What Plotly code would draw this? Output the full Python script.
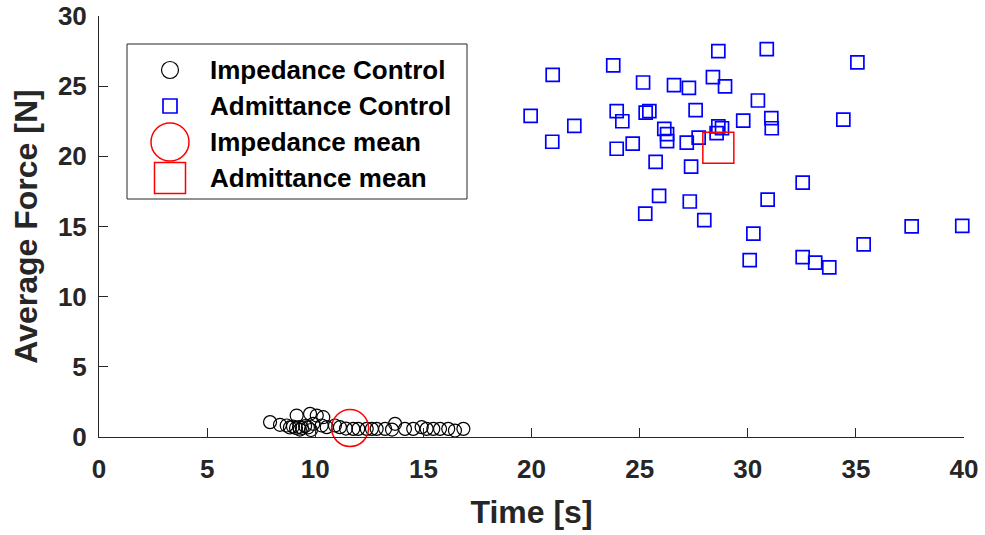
import plotly.graph_objects as go

# Impedance control trials: completion time [s] and average force [N]
imp_time = [7.91, 8.37, 8.68, 8.83, 8.97, 9.11, 9.25, 9.39, 9.53, 9.66,
            9.14, 9.76, 10.07, 10.37, 9.91, 10.30, 10.53, 10.91, 11.14, 11.76,
            11.99, 12.38, 12.84, 13.23, 13.69, 14.15, 14.53, 14.92, 15.15, 15.46,
            15.77, 16.15, 16.46, 16.85, 9.29, 9.80, 11.42, 12.62, 13.55]
imp_force = [1.06, 0.87, 0.82, 0.68, 0.75, 0.64, 0.71, 0.64, 0.78, 0.68,
             1.53, 1.65, 1.53, 1.41, 0.94, 0.82, 0.70, 0.82, 0.70, 0.58,
             0.58, 0.58, 0.58, 0.58, 0.94, 0.58, 0.58, 0.70, 0.58, 0.58,
             0.58, 0.58, 0.46, 0.58, 0.53, 0.50, 0.60, 0.58, 0.53]

# Admittance control trials
adm_time = [19.96, 20.98, 20.96, 21.98, 23.78, 23.94, 24.20, 23.94, 24.68, 25.16,
            25.28, 25.45, 25.26, 25.74, 25.90, 26.14, 26.27, 26.27, 26.59, 27.28,
            27.18, 27.38, 27.32, 27.59, 27.73, 27.99, 28.39, 28.64, 28.64, 28.81,
            28.56, 28.95, 29.79, 30.09, 30.26, 30.47, 30.88, 30.92, 31.09, 31.11,
            32.54, 32.54, 33.12, 33.77, 34.42, 35.07, 35.36, 37.58, 39.92]
adm_force = [22.88, 25.81, 21.04, 22.17, 26.48, 23.22, 22.50, 20.54, 20.90, 25.26,
             23.12, 23.22, 15.92, 19.60, 17.18, 21.95, 21.58, 21.08, 25.07, 24.88,
             20.97, 19.27, 16.78, 23.29, 21.33, 15.46, 25.64, 27.50, 22.13, 22.00,
             21.65, 24.98, 22.55, 12.61, 14.49, 23.98, 27.64, 16.92, 22.72, 22.00,
             18.13, 12.82, 12.42, 12.09, 22.62, 26.69, 13.73, 15.01, 15.04]

# Group means
imp_mean = (11.61, 0.64)
adm_mean = (28.64, 20.61)

x_ticks = [0, 5, 10, 15, 20, 25, 30, 35, 40]
y_ticks = [0, 5, 10, 15, 20, 25, 30]

legend_labels = ["Impedance Control", "Admittance Control",
                 "Impedance mean", "Admittance mean"]

FONT = "Liberation Sans, Arial, sans-serif"
AXIS_COLOR = "#262626"

W, H = 985, 535
M_L, M_R, M_T, M_B = 99, 21, 16, 98
PW, PH = W - M_L - M_R, H - M_T - M_B


def px_x(px):
    return (px - M_L) / PW


def px_y(py):
    return (H - M_B - py) / PH


fig = go.Figure()

fig.add_trace(go.Scatter(
    x=imp_time, y=imp_force, mode="markers", name=legend_labels[0],
    marker=dict(symbol="circle-open", size=13, color="black",
                line=dict(width=1.2, color="black")),
    showlegend=False, cliponaxis=False))

fig.add_trace(go.Scatter(
    x=adm_time, y=adm_force, mode="markers", name=legend_labels[1],
    marker=dict(symbol="square-open", size=13, color="#0000ff",
                line=dict(width=1.7, color="#0000ff")),
    showlegend=False, cliponaxis=False))

fig.add_trace(go.Scatter(
    x=[imp_mean[0]], y=[imp_mean[1]], mode="markers", name=legend_labels[2],
    marker=dict(symbol="circle-open", size=37, color="#ff0000",
                line=dict(width=1.5, color="#ff0000")),
    showlegend=False, cliponaxis=False))

fig.add_trace(go.Scatter(
    x=[adm_mean[0]], y=[adm_mean[1]], mode="markers", name=legend_labels[3],
    marker=dict(symbol="square-open", size=31, color="#ff0000",
                line=dict(width=1.5, color="#ff0000")),
    showlegend=False, cliponaxis=False))

# Legend box drawn by hand so the mean symbols keep their full size
shapes = [dict(type="rect", xref="paper", yref="paper",
               x0=px_x(127), x1=px_x(467), y0=px_y(199), y1=px_y(44),
               line=dict(color="#262626", width=1), fillcolor="white", layer="below")]

legend_rows = [70, 106, 142, 178]
legend_syms = [("circle", 17, "black", 1.2),
               ("rect", 14, "#0000ff", 1.7),
               ("circle", 38, "#ff0000", 1.5),
               ("rect", 31, "#ff0000", 1.5)]
sym_x = px_x(170)
for row_y, (kind, size, col, lw) in zip(legend_rows, legend_syms):
    shapes.append(dict(type=kind, xref="paper", yref="paper",
                       xsizemode="pixel", ysizemode="pixel",
                       xanchor=sym_x, yanchor=px_y(row_y),
                       x0=-size / 2, x1=size / 2, y0=-size / 2, y1=size / 2,
                       line=dict(color=col, width=lw)))

annotations = []
for row_y, label in zip(legend_rows, legend_labels):
    annotations.append(dict(xref="paper", yref="paper", x=px_x(208), y=px_y(row_y),
                            text=f"<b>{label}</b>", showarrow=False,
                            xanchor="left", yanchor="middle",
                            font=dict(family=FONT, size=26, color="black")))

fig.update_layout(
    width=W, height=H,
    margin=dict(l=M_L, r=M_R, t=M_T, b=M_B),
    paper_bgcolor="white", plot_bgcolor="white",
    font=dict(family=FONT, color=AXIS_COLOR),
    shapes=shapes, annotations=annotations,
    showlegend=False,
    xaxis=dict(range=[0, 40], tickvals=x_ticks,
               ticktext=[f"<b>{v}</b>" for v in x_ticks],
               ticks="inside", ticklen=9, tickwidth=1, tickcolor=AXIS_COLOR,
               showline=True, linecolor=AXIS_COLOR, linewidth=1,
               showgrid=False, zeroline=False, mirror=False, automargin=False,
               tickfont=dict(family=FONT, size=26, color=AXIS_COLOR),
               ticklabelstandoff=9,
               title=dict(text="<b>Time [s]</b>", standoff=17,
                          font=dict(family=FONT, size=32, color=AXIS_COLOR))),
    yaxis=dict(range=[0, 30], tickvals=y_ticks,
               ticktext=[f"<b>{v}</b>" for v in y_ticks],
               ticks="inside", ticklen=9, tickwidth=1, tickcolor=AXIS_COLOR,
               showline=True, linecolor=AXIS_COLOR, linewidth=1,
               showgrid=False, zeroline=False, mirror=False, automargin=False,
               tickfont=dict(family=FONT, size=26, color=AXIS_COLOR),
               ticklabelstandoff=6,
               title=dict(text="<b>Average Force [N]</b>", standoff=10,
                          font=dict(family=FONT, size=32, color=AXIS_COLOR))),
)

fig.write_html("out.html")
